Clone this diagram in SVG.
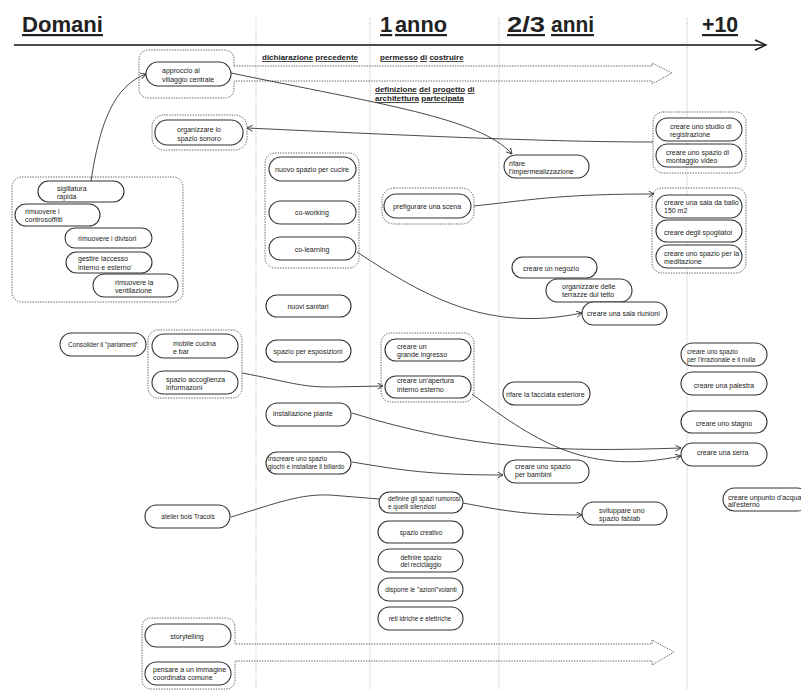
<svg xmlns="http://www.w3.org/2000/svg" width="801" height="690" viewBox="0 0 801 690">
<style>
text{font-family:"Liberation Sans",Arial,sans-serif;fill:#222;}
.n rect{fill:#fff;stroke:#333;stroke-width:1.1;}
.t{font-size:7px;}
.s{font-size:6.4px;}
.m{text-anchor:middle;}
.g{fill:none;stroke:#555;stroke-width:0.9;stroke-dasharray:1.4 1.2;}
.v{stroke:#aaa;stroke-width:0.9;stroke-dasharray:1 1.4;}
.c path{fill:none;stroke:#333;stroke-width:0.9;}
.h{font-size:22px;font-weight:bold;text-decoration:underline;}
.l{font-size:8px;font-weight:bold;}
.u{text-decoration:underline;}
</style>
<defs>
<marker id="ar" markerUnits="userSpaceOnUse" markerWidth="8" markerHeight="8" refX="6" refY="3.5" orient="auto">
<path d="M0.5,0.5 L6,3.5 L0.5,6.5" fill="none" stroke="#333" stroke-width="0.9"/>
</marker>
</defs>
<rect width="801" height="690" fill="#fff"/>

<g id="grid">
<line class="v" x1="256" y1="18" x2="256" y2="690"/>
<line class="v" x1="370" y1="18" x2="370" y2="690"/>
<line class="v" x1="499" y1="18" x2="499" y2="690"/>
<line class="v" x1="687" y1="18" x2="687" y2="690"/>
</g>

<g id="header">
<text class="h" x="22" y="32" textLength="81" lengthAdjust="spacingAndGlyphs">Domani</text>
<text class="h" x="380" y="32">1</text>
<text class="h" x="395" y="32" textLength="52" lengthAdjust="spacingAndGlyphs">anno</text>
<text class="h" x="507" y="32" textLength="38" lengthAdjust="spacingAndGlyphs">2/3</text>
<text class="h" x="551" y="32" textLength="43" lengthAdjust="spacingAndGlyphs">anni</text>
<text class="h" x="702" y="32" textLength="36" lengthAdjust="spacingAndGlyphs">+10</text>
<line x1="14" y1="45" x2="765" y2="45" stroke="#111" stroke-width="1.5"/>
<polyline points="755,40 766,45 755,50" fill="none" stroke="#111" stroke-width="1.4"/>
<text class="l" x="262" y="60"><tspan class="u">dichiarazione</tspan> <tspan class="u">precedente</tspan></text>
<text class="l" x="380" y="60"><tspan class="u">permesso</tspan> <tspan class="u">di</tspan> <tspan class="u">costruire</tspan></text>
<text class="l" x="375" y="92"><tspan class="u">definizione</tspan> <tspan class="u">del</tspan> <tspan class="u">progetto</tspan> <tspan class="u">di</tspan></text>
<text class="l" x="375" y="101"><tspan class="u">architettura</tspan> <tspan class="u">partecipata</tspan></text>
</g>

<g id="groups">
<path class="g" d="M234,66 V60 Q234,50 224,50 H149 Q139,50 139,60 V88 Q139,98 149,98 H224 Q234,98 234,88 V81 H652 V84 L672,73 L652,63 V66 Z"/>
<path class="g" d="M235,644 V628 Q235,618 225,618 H152 Q142,618 142,628 V679 Q142,689 152,689 H225 Q235,689 235,679 V661 H652 V665 L674,652 L652,640 V644 Z"/>
<rect class="g" x="152" y="115" width="95" height="35" rx="12"/>
<rect class="g" x="12" y="177" width="171" height="125" rx="10"/>
<rect class="g" x="265" y="153" width="94" height="115" rx="10"/>
<rect class="g" x="382" y="188" width="92" height="36" rx="12"/>
<rect class="g" x="653" y="112" width="93" height="61" rx="10"/>
<rect class="g" x="652" y="188" width="94" height="85" rx="10"/>
<rect class="g" x="148" y="330" width="94" height="68" rx="10"/>
<rect class="g" x="381" y="333" width="93" height="69" rx="10"/>
</g>

<g id="connectors" class="c">
<path d="M91,181 C100,122 114,86 146,74" marker-end="url(#ar)"/>
<path d="M231,73 C380,104 480,118 512,154" marker-end="url(#ar)"/>
<path d="M653,142 C550,142 420,136 247,128" marker-end="url(#ar)"/>
<path d="M474,206 C530,200 560,194 654,194" marker-end="url(#ar)"/>
<path d="M357,252 C430,300 490,332 582,313" marker-end="url(#ar)"/>
<path d="M242,373 C290,382 300,387 330,387 L383,386" marker-end="url(#ar)"/>
<path d="M352,413 C470,450 560,452 681,448" marker-end="url(#ar)"/>
<path d="M472,394 C540,445 590,475 681,456" marker-end="url(#ar)"/>
<path d="M352,462 C400,470 430,475 503,475" marker-end="url(#ar)"/>
<path d="M231,517 C280,502 300,494 330,495 L379,499"/>
<path d="M463,503 C510,512 530,515 582,515" marker-end="url(#ar)"/>
</g>

<g id="n-approccio" class="n"><rect x="146" y="62" width="85" height="24" rx="12"/><text class="t" x="162" y="72.5">approccio al</text><text class="t" x="162" y="81.5">villaggio centrale</text></g>
<g id="n-sonoro" class="n"><rect x="155" y="120" width="88" height="25" rx="12"/><text class="t m" x="199" y="132">organizzare lo</text><text class="t m" x="199" y="140.5">spazio sonoro</text></g>
<g id="n-sigillatura" class="n"><rect x="38" y="181" width="86" height="21" rx="10.5"/><text class="t" x="57" y="190.5">sigillatura</text><text class="t" x="57" y="198.5">rapida</text></g>
<g id="n-controsoffitti" class="n"><rect x="15" y="204" width="85" height="22" rx="11"/><text class="t" x="25" y="213.5">rimuovere i</text><text class="t" x="25" y="221.5">controsoffitti</text></g>
<g id="n-divisori" class="n"><rect x="65" y="228" width="87" height="20" rx="10"/><text class="t" x="78" y="241">rimuovere i divisori</text></g>
<g id="n-accesso" class="n"><rect x="66" y="252" width="86" height="21" rx="10.5"/><text class="t" x="78" y="260.5">gestire laccesso</text><text class="t" x="78" y="270">interno e esterno'</text></g>
<g id="n-ventilazione" class="n"><rect x="93" y="274" width="85" height="23" rx="11.5"/><text class="t" x="115" y="284.5">rimuovere la</text><text class="t" x="115" y="292.5">ventilazione</text></g>
<g id="n-parlament" class="n"><rect x="60" y="333" width="86" height="23" rx="11.5"/><text class="s m" x="103" y="347">Consolider il "parlament"</text></g>
<g id="n-cucina" class="n"><rect x="152" y="334" width="86" height="24" rx="12"/><text class="t" x="173" y="345.5">mobile cucina</text><text class="t" x="173" y="353.5">e bar</text></g>
<g id="n-accoglienza" class="n"><rect x="152" y="371" width="86" height="23" rx="11.5"/><text class="t" x="166" y="381.5">spazio accoglienza</text><text class="t" x="166" y="389.5">informazoni</text></g>
<g id="n-atelier" class="n"><rect x="145" y="505" width="85" height="23" rx="11.5"/><text class="s m" x="188" y="519">atelier bois Tracols</text></g>
<g id="n-storytelling" class="n"><rect x="145" y="624" width="86" height="23" rx="11.5"/><text class="t m" x="187" y="638.5">storytelling</text></g>
<g id="n-immagine" class="n"><rect x="145" y="662" width="86" height="23" rx="11.5"/><text class="t" x="153" y="671.5">pensare a un immagine</text><text class="t" x="153" y="679.5">coordinata comune</text></g>

<g id="n-cucire" class="n"><rect x="269" y="157" width="87" height="24" rx="12"/><text class="t m" x="312" y="171.5">nuovo spazio per cucire</text></g>
<g id="n-coworking" class="n"><rect x="269" y="201" width="87" height="23" rx="11.5"/><text class="t m" x="312" y="215">co-working</text></g>
<g id="n-colearning" class="n"><rect x="269" y="237" width="87" height="23" rx="11.5"/><text class="t m" x="312" y="251.5">co-learning</text></g>
<g id="n-sanitari" class="n"><rect x="266" y="295" width="85" height="22" rx="11"/><text class="t m" x="308" y="308.5">nuovi sanitari</text></g>
<g id="n-esposizioni" class="n"><rect x="266" y="340" width="85" height="22" rx="11"/><text class="t m" x="308" y="354">spazio per esposizioni</text></g>
<g id="n-piante" class="n"><rect x="266" y="403" width="85" height="23" rx="11.5"/><text class="t" x="273" y="416">installazione piante</text></g>
<g id="n-biliardo" class="n"><rect x="266" y="452" width="85" height="22" rx="11"/><text class="s" x="268" y="460.5">inscreare uno spazio</text><text class="s" x="268" y="469">giochi e installare il biliardo</text></g>

<g id="n-scena" class="n"><rect x="384" y="194" width="87" height="24" rx="12"/><text class="t m" x="427" y="208.5">prefigurare una scena</text></g>
<g id="n-ingresso" class="n"><rect x="385" y="339" width="86" height="22" rx="11"/><text class="t" x="397" y="349">creare un</text><text class="t" x="397" y="357">grande ingresso</text></g>
<g id="n-apertura" class="n"><rect x="385" y="376" width="86" height="22" rx="11"/><text class="t" x="397" y="383">creare un'apertura</text><text class="t" x="397" y="391.5">interno esterno</text></g>
<g id="n-rumorosi" class="n"><rect x="379" y="492" width="84" height="21" rx="10.5"/><text class="s" x="388" y="500.8">definire gli spazi rumorosi</text><text class="s" x="388" y="508.5">e quelli silenziosi</text></g>
<g id="n-creativo" class="n"><rect x="378" y="521" width="85" height="22" rx="11"/><text class="s m" x="421" y="534.5">spazio creativo</text></g>
<g id="n-reciclaggio" class="n"><rect x="378" y="549" width="85" height="23" rx="11.5"/><text class="s m" x="421" y="559.5">definire spazio</text><text class="s m" x="421" y="566.5">del reciclaggio</text></g>
<g id="n-volanti" class="n"><rect x="378" y="578" width="85" height="23" rx="11.5"/><text class="s m" x="421" y="591.5">disporre le "azioni"volanti</text></g>
<g id="n-reti" class="n"><rect x="378" y="607" width="85" height="23" rx="11.5"/><text class="s m" x="420" y="620.5">reti idriche e elettriche</text></g>

<g id="n-impermealizzazione" class="n"><rect x="504" y="155" width="85" height="23" rx="11.5"/><text class="t" x="509" y="165.5">rifare</text><text class="t" x="509" y="174">l'impermealizzazione</text></g>
<g id="n-negozio" class="n"><rect x="512" y="257" width="85" height="21" rx="10.5"/><text class="t" x="523" y="270.5">creare un negozio</text></g>
<g id="n-terrazze" class="n"><rect x="546" y="279" width="86" height="23" rx="11.5"/><text class="t" x="562" y="288.5">organizzare delle</text><text class="t" x="562" y="296.5">terrazze dul tetto</text></g>
<g id="n-riunioni" class="n"><rect x="582" y="302" width="85" height="23" rx="11.5"/><text class="t" x="587" y="315.5">creare una sala riunioni</text></g>
<g id="n-facciata" class="n"><rect x="503" y="382" width="87" height="23" rx="11.5"/><text class="t" x="506" y="396.5">rifare la facciata esteriore</text></g>
<g id="n-bambini" class="n"><rect x="504" y="460" width="85" height="23" rx="11.5"/><text class="t" x="515" y="468.5">creare uno spazio</text><text class="t" x="515" y="476.5">per bambini</text></g>
<g id="n-fablab" class="n"><rect x="582" y="502" width="85" height="23" rx="11.5"/><text class="t" x="599" y="512.5">sviluppare uno</text><text class="t" x="599" y="520.5">spazio fablab</text></g>

<g id="n-registrazione" class="n"><rect x="656" y="118" width="86" height="23" rx="11.5"/><text class="t" x="670" y="128.5">creare uno studio di</text><text class="t" x="670" y="136.5">registrazione</text></g>
<g id="n-montaggio" class="n"><rect x="656" y="144" width="86" height="23" rx="11.5"/><text class="t" x="666" y="154.5">creare uno spazio di</text><text class="t" x="666" y="163">montaggio video</text></g>
<g id="n-ballo" class="n"><rect x="656" y="195" width="86" height="23" rx="11.5"/><text class="t" x="664" y="204.5">creare una sala da ballo</text><text class="t" x="664" y="212.5">150 m2</text></g>
<g id="n-spogliatoi" class="n"><rect x="656" y="220" width="86" height="22" rx="11"/><text class="t" x="664" y="234.5">creare degli spogliatoi</text></g>
<g id="n-meditazione" class="n"><rect x="656" y="245" width="86" height="23" rx="11.5"/><text class="t" x="664" y="255.5">creare uno spazio per la</text><text class="t" x="664" y="263.5">meditazione</text></g>
<g id="n-irrazionale" class="n"><rect x="681" y="343" width="86" height="23" rx="11.5"/><text class="s" x="687" y="354">creare uno spazio</text><text class="s" x="687" y="361.5">per l'irrazionale e il nulla</text></g>
<g id="n-palestra" class="n"><rect x="681" y="372" width="86" height="23" rx="11.5"/><text class="t m" x="724" y="387.5">creare una palestra</text></g>
<g id="n-stagno" class="n"><rect x="681" y="411" width="86" height="22" rx="11"/><text class="t m" x="724" y="425.5">creare uno stagno</text></g>
<g id="n-serra" class="n"><rect x="681" y="443" width="86" height="23" rx="11.5"/><text class="t" x="697" y="454.5">creare una serra</text></g>
<g id="n-acqua" class="n"><rect x="723" y="488" width="86" height="23" rx="11.5"/><text class="t" x="728" y="499.5">creare unpunto d'acqua</text><text class="t" x="728" y="507">all'esterno</text></g>
</svg>
